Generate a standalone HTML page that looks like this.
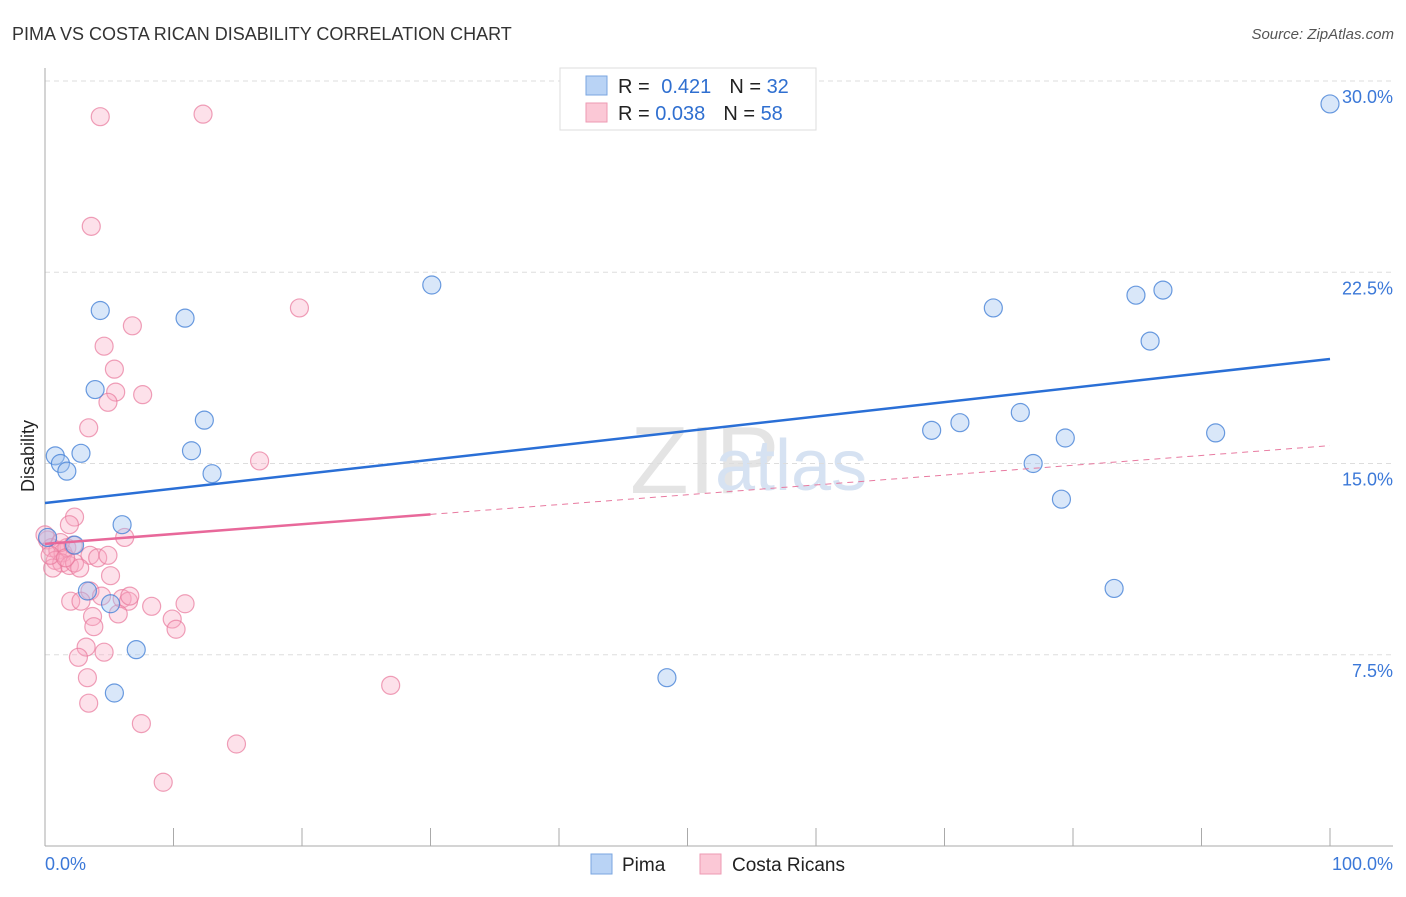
<!DOCTYPE html>
<html><head><meta charset="utf-8"><style>
body{margin:0;background:#fff;font-family:"Liberation Sans",sans-serif}
svg text{font-family:"Liberation Sans",sans-serif}
</style></head><body>
<svg id="c" width="1406" height="892" viewBox="0 0 1406 892">
<text x="12" y="40" font-size="18" fill="#333">PIMA VS COSTA RICAN DISABILITY CORRELATION CHART</text>
<text x="1394" y="39" font-size="15" fill="#555" text-anchor="end" font-style="italic">Source: ZipAtlas.com</text>
<text x="630" y="493" font-size="96" fill="#e4e4e4" font-family="Liberation Serif">ZIP</text>
<text x="715" y="490" font-size="72" fill="#d6e2f2">atlas</text>
<g id="grid"></g>
<g id="axes"></g>
<g id="marks"></g>
<text x="34" y="456" font-size="18" fill="#222" text-anchor="middle" transform="rotate(-90 34 456)">Disability</text>
<g>
<rect x="560" y="68" width="256" height="62" fill="#fff" stroke="#ddd"/>
<rect x="586" y="76" width="21" height="19" fill="#b9d3f5" stroke="#7aa6e0"/>
<rect x="586" y="103" width="21" height="19" fill="#fbc8d6" stroke="#ee9ab3"/>
<text x="618" y="93" font-size="20" fill="#222">R = <tspan fill="#2f6fd0" dx="6">0.421</tspan><tspan dx="18" fill="#222">N = </tspan><tspan fill="#2f6fd0">32</tspan></text>
<text x="618" y="120" font-size="20" fill="#222">R = <tspan fill="#2f6fd0">0.038</tspan><tspan dx="18" fill="#222">N = </tspan><tspan fill="#2f6fd0">58</tspan></text>
</g>
<g>
<rect x="591" y="854" width="21" height="20" fill="#b9d3f5" stroke="#7aa6e0"/>
<text x="622" y="871" font-size="19" fill="#222">Pima</text>
<rect x="700" y="854" width="21" height="20" fill="#fbc8d6" stroke="#ee9ab3"/>
<text x="732" y="871" font-size="19" fill="#222">Costa Ricans</text>
</g>
</svg>
<script>
const pimaX=[100,30.1,4.3,10.9,73.8,84.9,87.0,86.0,3.9,12.4,75.9,69.0,71.2,79.4,91.1,11.4,0.8,2.8,1.2,1.7,13.0,76.9,79.1,6.0,0.2,2.3,3.3,5.1,83.2,7.1,5.4,48.4];
const pimaY=[29.1,22.0,21.0,20.7,21.1,21.6,21.8,19.8,17.9,16.7,17.0,16.3,16.6,16.0,16.2,15.5,15.3,15.4,15.0,14.7,14.6,15.0,13.6,12.6,12.1,11.8,10.0,9.5,10.1,7.7,6.0,6.6];
const costaX=[4.3,12.3,3.6,19.8,6.8,4.6,5.4,5.5,7.6,4.9,3.4,16.7,2.3,1.9,6.2,0.2,0.5,1.0,1.4,1.7,0.8,1.3,1.9,2.3,3.5,2.7,0.6,5.1,3.5,2.0,2.8,4.4,6.0,6.5,6.6,8.3,10.9,5.7,3.7,3.8,9.9,10.2,3.2,2.6,4.6,3.3,3.4,26.9,7.5,14.9,9.2,0,1.2,0.4,1.6,2.2,4.1,4.9];
const costaY=[28.6,28.7,24.3,21.1,20.4,19.6,18.7,17.8,17.7,17.4,16.4,15.1,12.9,12.6,12.1,12.0,11.7,11.6,11.5,11.7,11.2,11.1,11.0,11.1,11.4,10.9,10.9,10.6,10.0,9.6,9.6,9.8,9.7,9.6,9.8,9.4,9.5,9.1,9.0,8.6,8.9,8.5,7.8,7.4,7.6,6.6,5.6,6.3,4.8,4.0,2.5,12.2,11.9,11.4,11.3,11.8,11.3,11.4];
const yTicks=[7.5,15,22.5,30];
const yTickLabels=["7.5%","15.0%","22.5%","30.0%"];
const xTicks=[0,10,20,30,40,50,60,70,80,90,100];
const pimaTrend=[13.45,19.1];
const costaTrend=[11.85,15.7];
const costaSolidEnd=30;
const NS="http://www.w3.org/2000/svg";
const sx=v=>45+v*12.85;
const sy=v=>846-v*25.5;
function mk(tag,attrs,parent){const e=document.createElementNS(NS,tag);for(const k in attrs)e.setAttribute(k,attrs[k]);parent.appendChild(e);return e;}
const grid=document.getElementById('grid'),axes=document.getElementById('axes'),marks=document.getElementById('marks');
yTicks.forEach((t,i)=>{
 const l=mk('line',{x1:45,x2:1393,y1:sy(t),y2:sy(t),stroke:'#ddd','stroke-dasharray':'5,4'},grid);
 
 
 const tx=mk('text',{x:1393,y:sy(t)+22,'font-size':18,fill:'#3b78d8','text-anchor':'end'},axes);
 tx.textContent=yTickLabels[i];
 
 
});
const ya=mk('line',{x1:45,x2:45,y1:68,y2:846,stroke:'#aaa'},axes);


const xa=mk('line',{x1:45,x2:1393,y1:846,y2:846,stroke:'#aaa'},axes);


xTicks.forEach(t=>{const l=mk('line',{x1:sx(t),x2:sx(t),y1:828,y2:846,stroke:'#aaa'},axes);
 
 });
const xl0=mk('text',{x:45,y:870,'font-size':18,fill:'#3b78d8'},axes);xl0.textContent='0.0%';


const xl1=mk('text',{x:1393,y:870,'font-size':18,fill:'#3b78d8','text-anchor':'end'},axes);xl1.textContent='100.0%';


costaX.forEach((x,i)=>{const c=mk('circle',{cx:sx(x),cy:sy(costaY[i]),r:9,fill:'rgba(248,170,195,0.35)',stroke:'rgba(232,120,155,0.7)','stroke-width':1.2},marks);
 
 });
pimaX.forEach((x,i)=>{const c=mk('circle',{cx:sx(x),cy:sy(pimaY[i]),r:9,fill:'rgba(160,195,240,0.4)',stroke:'rgba(70,130,215,0.8)','stroke-width':1.2},marks);
 
 });
const cAt=x=>costaTrend[0]+(costaTrend[1]-costaTrend[0])*x/100;
const cd=mk('line',{x1:sx(costaSolidEnd),y1:sy(cAt(costaSolidEnd)),x2:sx(100),y2:sy(costaTrend[1]),stroke:'#e87aa0','stroke-width':1,'stroke-dasharray':'6,5'},marks);


const cs=mk('line',{x1:sx(0),y1:sy(costaTrend[0]),x2:sx(costaSolidEnd),y2:sy(cAt(costaSolidEnd)),stroke:'#e8689a','stroke-width':2.5},marks);


const pt=mk('line',{x1:sx(0),y1:sy(pimaTrend[0]),x2:sx(100),y2:sy(pimaTrend[1]),stroke:'#2a6fd6','stroke-width':2.5},marks);


</script>
</body></html>
